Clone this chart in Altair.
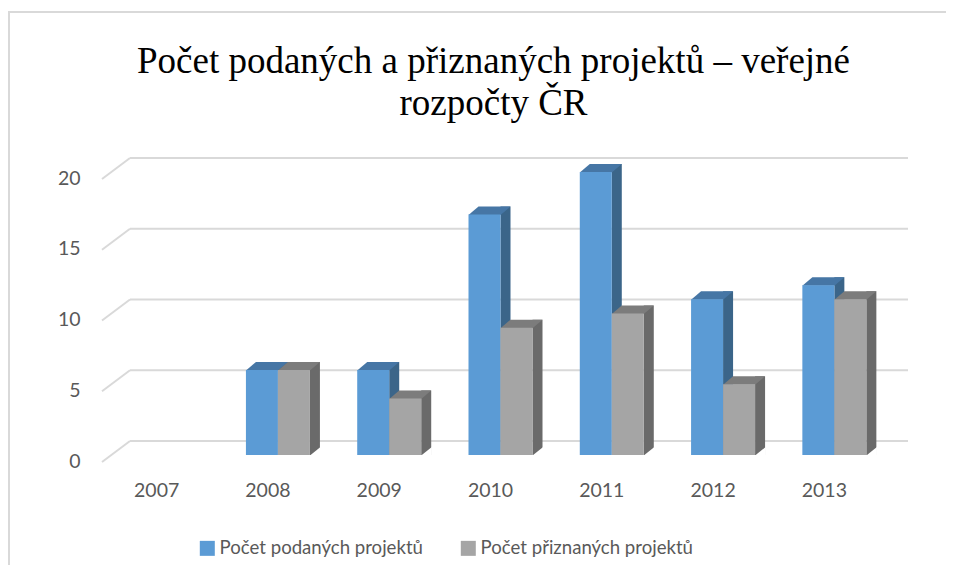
import altair as alt
import pandas as pd

years = ["2007", "2008", "2009", "2010", "2011", "2012", "2013"]
podane = [0, 6, 6, 17, 20, 11, 12]
priznane = [0, 6, 4, 9, 10, 5, 11]
series_names = ["Počet podaných projektů", "Počet přiznaných projektů"]
tick_values = [0, 5, 10, 15, 20]
title_lines = ["Počet podaných a přiznaných projektů – veřejné", "rozpočty ČR"]

front_colors = ["#5B9BD5", "#A5A5A5"]
top_colors = ["#4676A5", "#7C7C7C"]
side_colors = ["#3B6589", "#6A6A6A"]

rows = []
for s, vals in zip(series_names, [podane, priznane]):
    for yr, v in zip(years, vals):
        rows.append({"year": yr, "series": s, "value": v})
df = pd.DataFrame(rows)
grid_df = pd.DataFrame({"value": tick_values})

W, H = 779, 283
TXT = "#595959"
GRID = "#D9D9D9"
FONT = "Lato"
FS = 19.5

x_enc = alt.X(
    "year:N", sort=years,
    scale=alt.Scale(domain=years, paddingInner=0, paddingOuter=0),
    axis=alt.Axis(title=None, domain=False, ticks=False, tickSize=0, grid=False,
                  labelAngle=0, labelPadding=26, labelOffset=-10,
                  labelFont=FONT, labelFontSize=FS, labelColor=TXT),
)
y_scale = alt.Scale(domain=[0, 20], nice=False, zero=True)
y_axis = alt.Axis(title=None, domain=False, ticks=False, tickSize=0, grid=False,
                  values=tick_values, labelPadding=31, labelOffset=6,
                  labelFont=FONT, labelFontSize=FS, labelColor=TXT)
y_enc = alt.Y("value:Q", scale=y_scale, axis=y_axis)

color_enc = alt.Color(
    "series:N",
    scale=alt.Scale(domain=series_names, range=front_colors),
    legend=alt.Legend(orient="none", legendX=87, legendY=367, direction="horizontal",
                      title=None, symbolType="square", symbolSize=225,
                      symbolStrokeWidth=0, labelFont=FONT, labelFontSize=18.6,
                      labelColor=TXT, labelOffset=3, columnPadding=36, padding=0,
                      labelLimit=0),
)

layers = []

# chart frame (outline only; right and bottom edges fall outside the picture)
frame = pd.DataFrame({"k": [0]})
layers.append(alt.Chart(frame).mark_rect(fillOpacity=0, stroke=GRID, strokeWidth=2).encode(
    x=alt.value(-102), x2=alt.value(900), y=alt.value(-160), y2=alt.value(460)))

# back-wall gridlines and side-wall diagonals
layers.append(alt.Chart(grid_df).mark_rule(color=GRID, strokeWidth=2, yOffset=-14).encode(
    x=alt.value(19), x2=alt.value(797), y=y_enc))
layers.append(alt.Chart(grid_df).mark_rule(color=GRID, strokeWidth=2, yOffset=7, y2Offset=-14).encode(
    x=alt.value(-9), x2=alt.value(19), y=y_enc, y2=alt.Y2("value:Q")))

# title
for i, line in enumerate(title_lines):
    layers.append(alt.Chart(pd.DataFrame({"t": [line]})).mark_text(
        font="Liberation Serif", fontSize=37, color="#000000",
        align="center", baseline="alphabetic").encode(
        x=alt.value(382.5), y=alt.value(-99 + 42 * i), text="t:N"))

offsets = [-16, 16]
for i, s in enumerate(series_names):
    off = offsets[i]
    base = alt.Chart(df).transform_filter(
        (alt.datum.series == s) & (alt.datum.value > 0))
    side = base.mark_bar(color=side_colors[i], width=10, xOffset=off + 21,
                         yOffset=-8, y2Offset=0).encode(
        x=x_enc, y=y_enc, y2=alt.datum(0))
    top = base.mark_point(shape="M-16,0.5 L-6,-8 L26,-8 L16,0.5 Z", size=4, filled=True,
                          opacity=1, strokeWidth=0, color=top_colors[i],
                          xOffset=off).encode(x=x_enc, y=y_enc)
    mask = base.mark_point(shape="M16,0.6 L26.6,-8 L26.6,0.6 Z", size=4, filled=True,
                           opacity=1, strokeWidth=0, color="#FFFFFF",
                           xOffset=off).encode(x=x_enc, y=alt.datum(0))
    front = base.mark_bar(width=32, xOffset=off, opacity=1).encode(
        x=x_enc, y=y_enc, y2=alt.datum(0), color=color_enc)
    layers += [side, top, mask, front]

chart = alt.layer(*layers).properties(
    width=W, height=H,
    autosize=alt.AutoSizeParams(type="none"),
    padding={"left": 103, "top": 164, "right": 56, "bottom": 110},
    background="#FFFFFF",
).configure_view(strokeWidth=0)

chart.save("out.html", embed_options={"renderer": "svg", "actions": False})
